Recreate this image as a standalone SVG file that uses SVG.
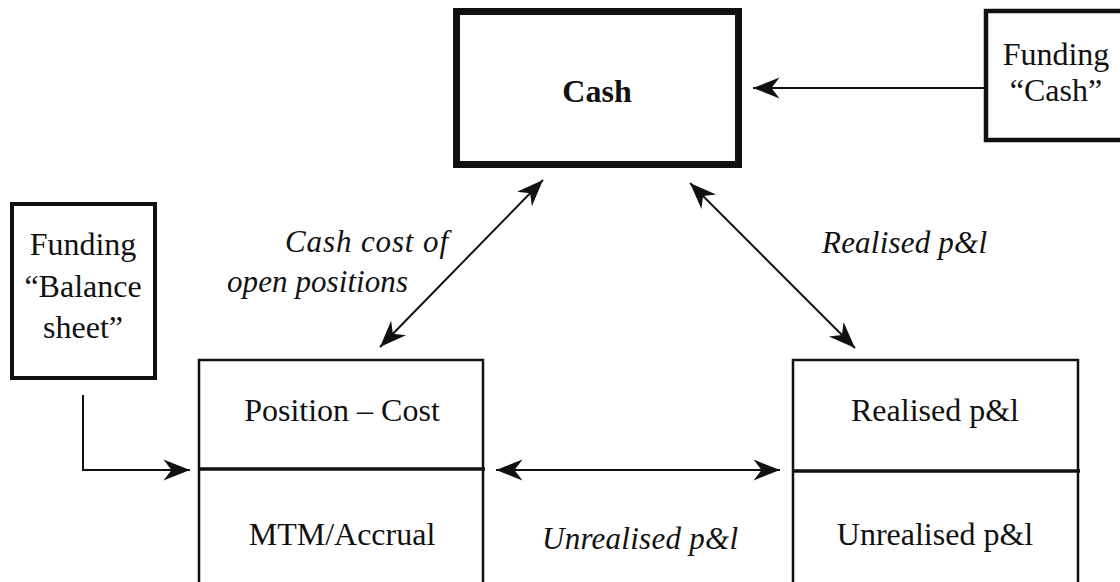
<svg xmlns="http://www.w3.org/2000/svg" width="1120" height="582" viewBox="0 0 1120 582">
  <style>
    .box { fill: #fff; stroke: #111; }
    .lbl { font-family: "Liberation Serif", "Times New Roman", serif; font-size: 32px; fill: #111; text-anchor: middle; }
    .edge { font-family: "Liberation Serif", "Times New Roman", serif; font-size: 31px; font-style: italic; fill: #111; }
    .conn { fill: none; stroke: #111; stroke-width: 2; }
  </style>
  <defs>
    <marker id="head" markerUnits="userSpaceOnUse" markerWidth="30" markerHeight="24" viewBox="-24 -10 26 20" refX="0" refY="0" orient="auto-start-reverse">
      <path d="M0,0 L-23,-9 L-16,0 L-23,9 Z" fill="#111"/>
    </marker>
  </defs>
  <rect width="1120" height="582" fill="#fff"/>

  <!-- Cash -->
  <g id="cash">
    <rect class="box" x="456.5" y="11.5" width="282" height="153" stroke-width="7"/>
    <text class="lbl" x="597" y="102" font-weight="bold" font-size="30">Cash</text>
  </g>

  <!-- Funding "Cash" -->
  <g id="funding-cash">
    <rect class="box" x="986" y="11" width="140" height="129" stroke-width="4.5"/>
    <text class="lbl" x="1056" y="65">Funding</text>
    <text class="lbl" x="1056" y="101">“Cash”</text>
  </g>

  <!-- Funding "Balance sheet" -->
  <g id="funding-balance">
    <rect class="box" x="12" y="204" width="143" height="174" stroke-width="4"/>
    <text class="lbl" x="83" y="255">Funding</text>
    <text class="lbl" x="83" y="297">“Balance</text>
    <text class="lbl" x="83" y="338">sheet”</text>
  </g>

  <!-- Position -->
  <g id="position">
    <rect class="box" x="199" y="360" width="284" height="240" stroke-width="2.5"/>
    <line x1="199" y1="469" x2="485" y2="469" stroke="#111" stroke-width="3.5"/>
    <text class="lbl" x="342" y="421">Position – Cost</text>
    <text class="lbl" x="342" y="545">MTM/Accrual</text>
  </g>

  <!-- P&L -->
  <g id="pnl">
    <rect class="box" x="793" y="360" width="285" height="240" stroke-width="2.5"/>
    <line x1="793" y1="471" x2="1080" y2="471" stroke="#111" stroke-width="3.5"/>
    <text class="lbl" x="935" y="421">Realised p&amp;l</text>
    <text class="lbl" x="935" y="545">Unrealised p&amp;l</text>
  </g>

  <!-- Connectors -->
  <g id="connectors">
    <line class="conn" x1="984" y1="88" x2="753" y2="88" marker-end="url(#head)"/>
    <polyline class="conn" points="83,395 83,470 190,470" marker-end="url(#head)"/>
    <line class="conn" x1="380" y1="347" x2="543" y2="180" marker-start="url(#head)" marker-end="url(#head)"/>
    <line class="conn" x1="690" y1="183" x2="855" y2="348" marker-start="url(#head)" marker-end="url(#head)"/>
    <line class="conn" x1="496" y1="470" x2="780" y2="470" marker-start="url(#head)" marker-end="url(#head)"/>
    <text class="edge" x="285" y="252" textLength="163">Cash cost of</text>
    <text class="edge" x="227" y="292" textLength="181">open positions</text>
    <text class="edge" x="822" y="253" textLength="165">Realised p&amp;l</text>
    <text class="edge" x="542" y="549" textLength="196">Unrealised p&amp;l</text>
  </g>
</svg>
